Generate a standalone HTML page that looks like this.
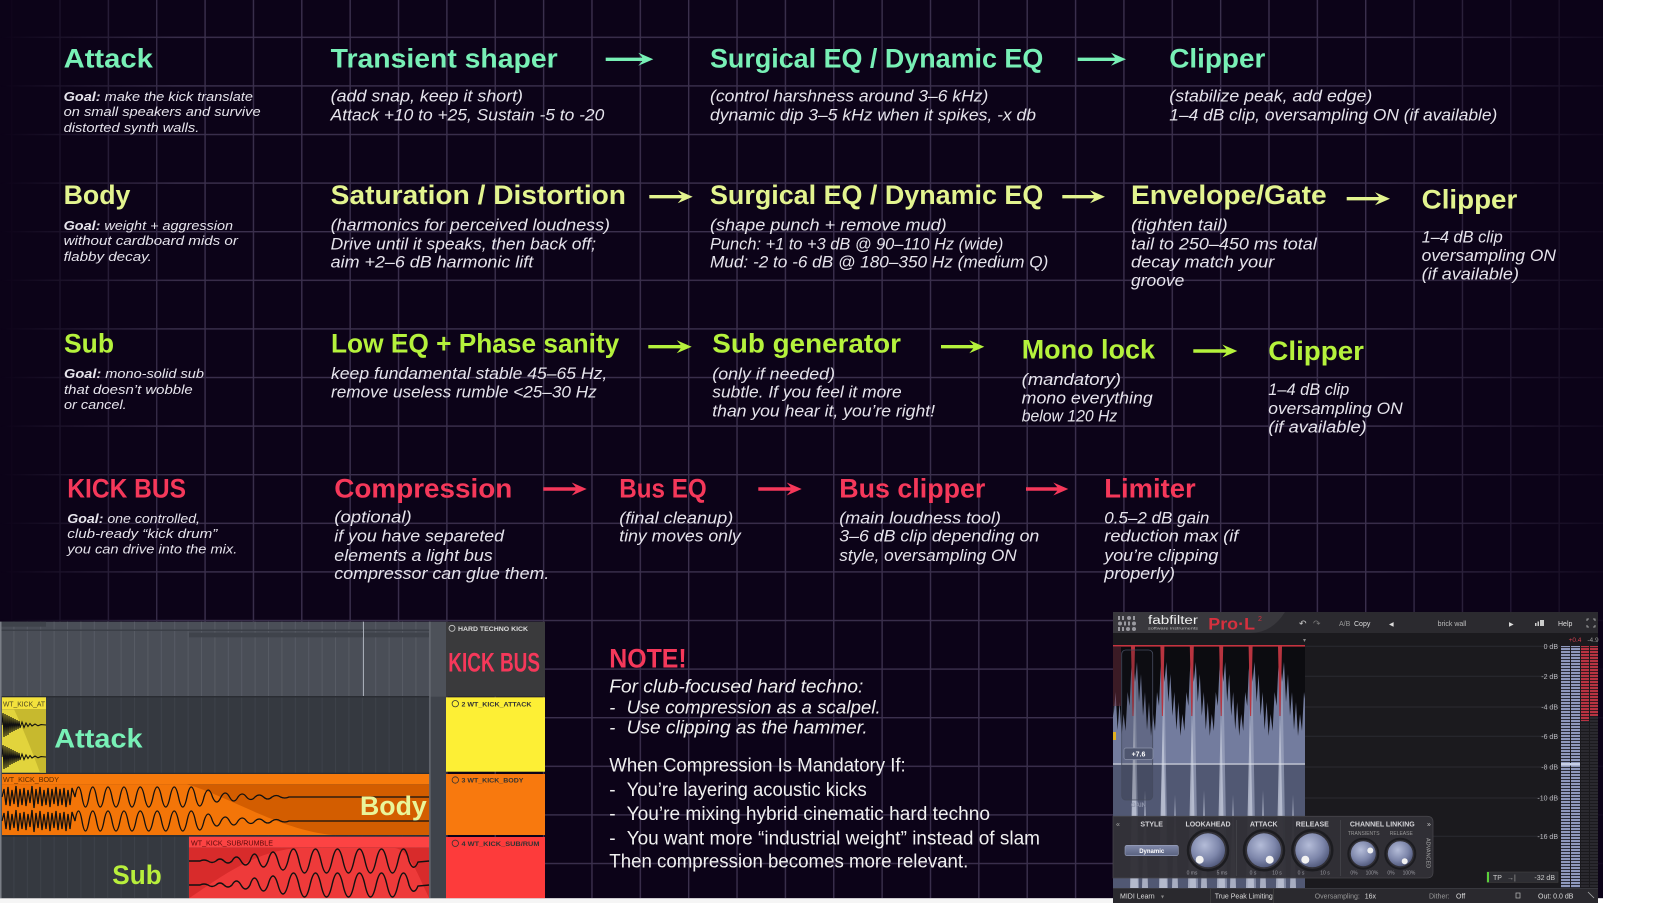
<!DOCTYPE html>
<html><head><meta charset="utf-8">
<style>
html,body{margin:0;padding:0;background:#fff;}
body{width:1668px;height:903px;overflow:hidden;}
svg{display:block}
text{font-family:"Liberation Sans",sans-serif}
.h{font-weight:bold;font-size:27px}
.d{font-style:italic;font-size:17px;fill:#e6e4ec}
.g{font-style:italic;font-size:13px;fill:#e6e4ec}
.n{font-size:19px;fill:#f0f0f0}
.ni{font-style:italic;font-size:18px;fill:#f0f0f0}
.m{fill:#78f0b6}.y{fill:#e3f48f}.l{fill:#b5f23c}.r{fill:#f5385a}
.t7{font-size:7px}
.pl{font-size:7px;fill:#d4d4d8;font-weight:bold}
.pk{font-size:5px;fill:#9a9aa2}
.db{font-size:7px;fill:#bdbdc3}
</style></head><body>
<svg width="1668" height="903" viewBox="0 0 1668 903" xmlns="http://www.w3.org/2000/svg">
<defs>
<linearGradient id="gf" x1="0" y1="0" x2="1603" y2="0" gradientUnits="userSpaceOnUse">
<stop offset="0" stop-color="#fff" stop-opacity="0"/>
<stop offset="0.04" stop-color="#fff" stop-opacity="0.35"/>
<stop offset="0.11" stop-color="#fff" stop-opacity="1"/>
<stop offset="0.86" stop-color="#fff" stop-opacity="1"/>
<stop offset="0.95" stop-color="#fff" stop-opacity="0.45"/>
<stop offset="1" stop-color="#fff" stop-opacity="0.15"/>
</linearGradient>
<mask id="gm" maskUnits="userSpaceOnUse" x="0" y="0" width="1603" height="898"><rect width="1603" height="898" fill="url(#gf)"/></mask>
<pattern id="grid" x="59.3" y="36.6" width="48.36" height="48.6" patternUnits="userSpaceOnUse"><rect width="1.4" height="48.6" fill="#3b304d"/><rect width="48.36" height="1.4" fill="#3b304d"/></pattern>
<pattern id="dg1" x="0" y="0" width="13.4" height="10" patternUnits="userSpaceOnUse"><rect width="1" height="10" fill="#575b64"/></pattern>
<pattern id="dg2" x="0" y="0" width="13.4" height="10" patternUnits="userSpaceOnUse"><rect width="1" height="10" fill="#3d4149"/></pattern>
<pattern id="bs" width="10" height="3" patternUnits="userSpaceOnUse"><rect width="10" height="2" fill="#8f99bd"/><rect y="2" width="10" height="1" fill="#2c2e3a"/></pattern>
<pattern id="rs" width="10" height="3" patternUnits="userSpaceOnUse"><rect width="10" height="2" fill="#b83342"/><rect y="2" width="10" height="1" fill="#3a1a20"/></pattern>
<pattern id="ds" width="10" height="3" patternUnits="userSpaceOnUse"><rect width="10" height="2" fill="#2a292f"/><rect y="2" width="10" height="1" fill="#1b1a1e"/></pattern>
<radialGradient id="kg" cx="0.4" cy="0.35" r="0.7"><stop offset="0" stop-color="#b4bcd8"/><stop offset="0.6" stop-color="#7e87ab"/><stop offset="1" stop-color="#4d5577"/></radialGradient>
<linearGradient id="btn" x1="0" y1="0" x2="0" y2="1"><stop offset="0" stop-color="#8089aa"/><stop offset="1" stop-color="#59617f"/></linearGradient>
<path id="dip" d="M0,645 L0,648 L2,682 L4,662 L6,702 L8,674 L10,716 L12,692 L14,730 L16,702 L18,736 L20,714 L22,731 L24,692 L26,706 L27.5,672 L29.4,648 L29.4,645 Z" fill="#0c0c10"/>
<clipPath id="wclip"><rect x="1113" y="640" width="192" height="248"/></clipPath>
<clipPath id="kclip"><rect x="446" y="621" width="99" height="278"/></clipPath>
<path id="bw" d="M2,797 L4,789 L6,805 L8,787 L10,806 L12,790 L14,804 L16,786 L18,807 L20,789 L22,805 L24,788 L26,806 L28,790 L30,803 L32,786 L34,808 L36,789 L38,804 L40,787 L42,806 L44,790 L46,805 L48,788 L50,807 L52,789 L54,804 L56,787 L58,806 L60,789 L62,805 L64,788 L66,807 L68,790 L70,805 L72,788 L75,797 Q78.5,777 82,797 Q85.5,817 89,797 Q92.75,777 96.5,797 Q100.25,817 104,797 Q108,777 112,797 Q116,817 120,797 Q124,777 128,797 Q132,817 136,797 Q140.25,777 144.5,797 Q148.75,817 153,797 Q157.25,777 161.5,797 Q165.75,817 170,797 Q174.25,777 178.5,797 Q182.75,817 187,797 Q191.25,777 195.5,797 Q199.75,815 204,797 Q208.25,783 212.5,797 Q216.75,807 221,797 Q225.25,789 229.5,797 Q233.75,805 238,797 Q242.25,791 246.5,797 Q250.75,802 255,797 Q259.25,793 263.5,797 Q267.75,801 272,797 Q276.25,794 280.5,797 Q284.75,799 289,797 L429,797" fill="none" stroke="#111" stroke-width="1.3"/>
<path id="sw" d="M189,861 H200 Q204,859 208,861 Q212,864 216,861 Q220,857 224,861 Q228,865 232,861 Q236.5,853 241,861 Q245.5,869 250,861 Q254.5,847 259,861 Q263.5,873 268,861 Q273,843 278,861 Q283,879 288,861 Q293.5,837 299,861 Q304.5,885 310,861 Q315.5,837 321,861 Q326.5,885 332,861 Q337.5,837 343,861 Q348.5,885 354,861 Q359.5,837 365,861 Q370.5,885 376,861 Q381.5,837 387,861 Q392.5,885 398,861 Q403.5,837 409,861 Q413.5,873 418,862 L429.3,861" fill="none" stroke="#111" stroke-width="1.4"/>
<polyline id="aw" points="2,725 3,713 4,737 5,714 6,736 7,715 8,735 9,716 10,733 11,717 12,732 13,718 14,731 15,719 16,730 17,720 18,729 19,721 20,728 22,722 24,727.5 26,723 28,726.5 30,723.5 32,726 35,724 38,725.8 41,724.6 46,725" fill="none" stroke="#111" stroke-width="1.1"/>
</defs>

<!-- background -->
<rect x="0" y="0" width="1603" height="898.3" fill="#0c0318"/>
<rect x="0" y="0" width="1603" height="898.3" fill="url(#grid)" mask="url(#gm)"/>

<!-- ROW 1 -->
<text class="h m" x="63.6" y="67.7" textLength="89.3" lengthAdjust="spacingAndGlyphs">Attack</text>
<text class="h m" x="330.7" y="67.7" textLength="227" lengthAdjust="spacingAndGlyphs">Transient shaper</text>
<text class="h m" x="710" y="67.7" textLength="333.3" lengthAdjust="spacingAndGlyphs">Surgical EQ / Dynamic EQ</text>
<text class="h m" x="1169.3" y="67.7" textLength="96" lengthAdjust="spacingAndGlyphs">Clipper</text>
<text class="g" x="63.6" y="100.8" textLength="189.3" lengthAdjust="spacingAndGlyphs"><tspan font-weight="bold">Goal:</tspan> make the kick translate</text>
<text class="g" x="63.6" y="116.2" textLength="197" lengthAdjust="spacingAndGlyphs">on small speakers and survive</text>
<text class="g" x="63.6" y="131.8" textLength="135.7" lengthAdjust="spacingAndGlyphs">distorted synth walls.</text>
<text class="d" x="330.7" y="101.7" textLength="192.3" lengthAdjust="spacingAndGlyphs">(add snap, keep it short)</text>
<text class="d" x="330.7" y="120.7" textLength="273.6" lengthAdjust="spacingAndGlyphs">Attack +10 to +25, Sustain -5 to -20</text>
<text class="d" x="710" y="101.7" textLength="278.3" lengthAdjust="spacingAndGlyphs">(control harshness around 3–6 kHz)</text>
<text class="d" x="710" y="120.7" textLength="326" lengthAdjust="spacingAndGlyphs">dynamic dip 3–5 kHz when it spikes, -x db</text>
<text class="d" x="1169.3" y="101.7" textLength="203" lengthAdjust="spacingAndGlyphs">(stabilize peak, add edge)</text>
<text class="d" x="1169.3" y="120.7" textLength="328" lengthAdjust="spacingAndGlyphs">1–4 dB clip, oversampling ON (if available)</text>
<g class="m">
<path d="M605.7,57.6H642.3L638.3,52.8L653.3,59.3L638.3,65.8L642.3,61H605.7Z"/>
<path d="M1077.7,57.6H1115L1111,52.8L1126,59.3L1111,65.8L1115,61H1077.7Z"/>
</g>

<!-- ROW 2 -->
<text class="h y" x="63.6" y="204" textLength="66.8" lengthAdjust="spacingAndGlyphs">Body</text>
<text class="h y" x="330.7" y="204" textLength="295.3" lengthAdjust="spacingAndGlyphs">Saturation / Distortion</text>
<text class="h y" x="710" y="204" textLength="333.3" lengthAdjust="spacingAndGlyphs">Surgical EQ / Dynamic EQ</text>
<text class="h y" x="1131" y="204" textLength="195.7" lengthAdjust="spacingAndGlyphs">Envelope/Gate</text>
<text class="h y" x="1421.7" y="208.3" textLength="95.6" lengthAdjust="spacingAndGlyphs">Clipper</text>
<text class="g" x="63.6" y="230.2" textLength="169.4" lengthAdjust="spacingAndGlyphs"><tspan font-weight="bold">Goal:</tspan> weight + aggression</text>
<text class="g" x="63.6" y="245.2" textLength="174.3" lengthAdjust="spacingAndGlyphs">without cardboard mids or</text>
<text class="g" x="63.6" y="260.8" textLength="88.2" lengthAdjust="spacingAndGlyphs">flabby decay.</text>
<text class="d" x="330.7" y="230.7" textLength="279.3" lengthAdjust="spacingAndGlyphs">(harmonics for perceived loudness)</text>
<text class="d" x="330.7" y="249.7" textLength="265.3" lengthAdjust="spacingAndGlyphs">Drive until it speaks, then back off;</text>
<text class="d" x="330.7" y="267.7" textLength="202.5" lengthAdjust="spacingAndGlyphs">aim +2–6 dB harmonic lift</text>
<text class="d" x="710" y="230.7" textLength="236.7" lengthAdjust="spacingAndGlyphs">(shape punch + remove mud)</text>
<text class="d" x="710" y="249.7" textLength="293.3" lengthAdjust="spacingAndGlyphs">Punch: +1 to +3 dB @ 90–110 Hz (wide)</text>
<text class="d" x="710" y="267.7" textLength="338.3" lengthAdjust="spacingAndGlyphs">Mud: -2 to -6 dB @ 180–350 Hz (medium Q)</text>
<text class="d" x="1131" y="230.7" textLength="96.7" lengthAdjust="spacingAndGlyphs">(tighten tail)</text>
<text class="d" x="1131" y="249.7" textLength="185.7" lengthAdjust="spacingAndGlyphs">tail to 250–450 ms total</text>
<text class="d" x="1131" y="267.7" textLength="143.3" lengthAdjust="spacingAndGlyphs">decay match your</text>
<text class="d" x="1131" y="286" textLength="53.3" lengthAdjust="spacingAndGlyphs">groove</text>
<text class="d" x="1421.7" y="242.3" textLength="81" lengthAdjust="spacingAndGlyphs">1–4 dB clip</text>
<text class="d" x="1421.7" y="261" textLength="134.3" lengthAdjust="spacingAndGlyphs">oversampling ON</text>
<text class="d" x="1421.7" y="279.3" textLength="97.3" lengthAdjust="spacingAndGlyphs">(if available)</text>
<g class="y">
<path d="M649.3,195H681.7L677.7,190.2L692.7,196.7L677.7,203.2L681.7,198.4H649.3Z"/>
<path d="M1062.3,195H1094L1090,190.2L1105,196.7L1090,203.2L1094,198.4H1062.3Z"/>
<path d="M1346.7,197H1379L1375,192.2L1390,198.7L1375,205.2L1379,200.4H1346.7Z"/>
</g>

<!-- ROW 3 -->
<text class="h l" x="64" y="352.7" textLength="50" lengthAdjust="spacingAndGlyphs">Sub</text>
<text class="h l" x="331" y="352.7" textLength="288.3" lengthAdjust="spacingAndGlyphs">Low EQ + Phase sanity</text>
<text class="h l" x="712.3" y="352.7" textLength="188.7" lengthAdjust="spacingAndGlyphs">Sub generator</text>
<text class="h l" x="1021.7" y="358.3" textLength="133.3" lengthAdjust="spacingAndGlyphs">Mono lock</text>
<text class="h l" x="1268.3" y="360" textLength="95.7" lengthAdjust="spacingAndGlyphs">Clipper</text>
<text class="g" x="64" y="377.8" textLength="140" lengthAdjust="spacingAndGlyphs"><tspan font-weight="bold">Goal:</tspan> mono-solid sub</text>
<text class="g" x="64" y="393.8" textLength="128.7" lengthAdjust="spacingAndGlyphs">that doesn’t wobble</text>
<text class="g" x="64" y="409.2" textLength="62.7" lengthAdjust="spacingAndGlyphs">or cancel.</text>
<text class="d" x="331" y="379" textLength="276.3" lengthAdjust="spacingAndGlyphs">keep fundamental stable 45–65 Hz,</text>
<text class="d" x="331" y="397.3" textLength="265.7" lengthAdjust="spacingAndGlyphs">remove useless rumble &lt;25–30 Hz</text>
<text class="d" x="712.3" y="379.3" textLength="122.7" lengthAdjust="spacingAndGlyphs">(only if needed)</text>
<text class="d" x="712.3" y="397.7" textLength="189.4" lengthAdjust="spacingAndGlyphs">subtle. If you feel it more</text>
<text class="d" x="712.3" y="416.7" textLength="222.7" lengthAdjust="spacingAndGlyphs">than you hear it, you’re right!</text>
<text class="d" x="1021.7" y="385" textLength="99.3" lengthAdjust="spacingAndGlyphs">(mandatory)</text>
<text class="d" x="1021.7" y="403.3" textLength="131" lengthAdjust="spacingAndGlyphs">mono everything</text>
<text class="d" x="1021.7" y="421.7" textLength="95.6" lengthAdjust="spacingAndGlyphs">below 120 Hz</text>
<text class="d" x="1268.3" y="395" textLength="81" lengthAdjust="spacingAndGlyphs">1–4 dB clip</text>
<text class="d" x="1268.3" y="414" textLength="134.4" lengthAdjust="spacingAndGlyphs">oversampling ON</text>
<text class="d" x="1268.3" y="432.7" textLength="98.4" lengthAdjust="spacingAndGlyphs">(if available)</text>
<g class="l">
<path d="M648.3,345H680.7L676.7,340.2L691.7,346.7L676.7,353.2L680.7,348.4H648.3Z"/>
<path d="M941,345H973.3L969.3,340.2L984.3,346.7L969.3,353.2L973.3,348.4H941Z"/>
<path d="M1193.3,349.3H1226.3L1222.3,344.5L1237.3,351L1222.3,357.5L1226.3,352.7H1193.3Z"/>
</g>

<!-- ROW 4 -->
<text class="h r" x="67.3" y="497.3" textLength="118.7" lengthAdjust="spacingAndGlyphs">KICK BUS</text>
<text class="h r" x="334.3" y="497.3" textLength="178" lengthAdjust="spacingAndGlyphs">Compression</text>
<text class="h r" x="619.3" y="497.3" textLength="87.4" lengthAdjust="spacingAndGlyphs">Bus EQ</text>
<text class="h r" x="839.3" y="497.3" textLength="146" lengthAdjust="spacingAndGlyphs">Bus clipper</text>
<text class="h r" x="1104.3" y="497.3" textLength="91.4" lengthAdjust="spacingAndGlyphs">Limiter</text>
<text class="g" x="67.3" y="522.8" textLength="132.7" lengthAdjust="spacingAndGlyphs"><tspan font-weight="bold">Goal:</tspan> one controlled,</text>
<text class="g" x="67.3" y="538.2" textLength="150" lengthAdjust="spacingAndGlyphs">club-ready “kick drum”</text>
<text class="g" x="67.3" y="553.5" textLength="170" lengthAdjust="spacingAndGlyphs">you can drive into the mix.</text>
<text class="d" x="334.3" y="522.7" textLength="77.4" lengthAdjust="spacingAndGlyphs">(optional)</text>
<text class="d" x="334.3" y="541.7" textLength="169.7" lengthAdjust="spacingAndGlyphs">if you have separeted</text>
<text class="d" x="334.3" y="561" textLength="158.4" lengthAdjust="spacingAndGlyphs">elements a light bus</text>
<text class="d" x="334.3" y="579" textLength="215" lengthAdjust="spacingAndGlyphs">compressor can glue them.</text>
<text class="d" x="619.3" y="523.3" textLength="114" lengthAdjust="spacingAndGlyphs">(final cleanup)</text>
<text class="d" x="619.3" y="541.7" textLength="121.4" lengthAdjust="spacingAndGlyphs">tiny moves only</text>
<text class="d" x="839.3" y="523.3" textLength="161.7" lengthAdjust="spacingAndGlyphs">(main loudness tool)</text>
<text class="d" x="839.3" y="541.7" textLength="200" lengthAdjust="spacingAndGlyphs">3–6 dB clip depending on</text>
<text class="d" x="839.3" y="561" textLength="177.4" lengthAdjust="spacingAndGlyphs">style, oversampling ON</text>
<text class="d" x="1104.3" y="523.3" textLength="105" lengthAdjust="spacingAndGlyphs">0.5–2 dB gain</text>
<text class="d" x="1104.3" y="541.7" textLength="134" lengthAdjust="spacingAndGlyphs">reduction max (if</text>
<text class="d" x="1104.3" y="561" textLength="114" lengthAdjust="spacingAndGlyphs">you’re clipping</text>
<text class="d" x="1104.3" y="579" textLength="70.7" lengthAdjust="spacingAndGlyphs">properly)</text>
<g class="r">
<path d="M543.3,487.3H575.7L571.7,482.5L586.7,489L571.7,495.5L575.7,490.7H543.3Z"/>
<path d="M758.3,487.3H790.7L786.7,482.5L801.7,489L786.7,495.5L790.7,490.7H758.3Z"/>
<path d="M1026,487.3H1057.3L1053.3,482.5L1068.3,489L1053.3,495.5L1057.3,490.7H1026Z"/>
</g>

<!-- NOTE -->
<text class="h r" x="609.3" y="667.7" textLength="77.4" lengthAdjust="spacingAndGlyphs">NOTE!</text>
<text class="ni" x="609.3" y="692.7" textLength="254" lengthAdjust="spacingAndGlyphs">For club-focused hard techno:</text>
<text class="ni" x="609.3" y="713.3">-</text>
<text class="ni" x="626.7" y="713.3" textLength="254" lengthAdjust="spacingAndGlyphs">Use compression as a scalpel.</text>
<text class="ni" x="609.3" y="733.3">-</text>
<text class="ni" x="626.7" y="733.3" textLength="241" lengthAdjust="spacingAndGlyphs">Use clipping as the hammer.</text>
<text class="n" x="609.3" y="771.7" textLength="296.4" lengthAdjust="spacingAndGlyphs">When Compression Is Mandatory If:</text>
<text class="n" x="609.3" y="796">-</text>
<text class="n" x="626.7" y="796" textLength="240" lengthAdjust="spacingAndGlyphs">You’re layering acoustic kicks</text>
<text class="n" x="609.3" y="820">-</text>
<text class="n" x="626.7" y="820" textLength="363.3" lengthAdjust="spacingAndGlyphs">You’re mixing hybrid cinematic hard techno</text>
<text class="n" x="609.3" y="844.3">-</text>
<text class="n" x="626.7" y="844.3" textLength="413.3" lengthAdjust="spacingAndGlyphs">You want more “industrial weight” instead of slam</text>
<text class="n" x="609.3" y="867.7" textLength="359" lengthAdjust="spacingAndGlyphs">Then compression becomes more relevant.</text>

<!-- DAW -->
<g>
<rect x="0" y="621.7" width="430" height="75" fill="#4a4e57"/>
<rect x="0" y="621.7" width="430" height="75" fill="url(#dg1)"/>
<rect x="0" y="621.7" width="46" height="5" fill="#3f434b"/>
<rect x="0" y="629.5" width="430" height="1.5" fill="#3b3f47"/>
<rect x="189" y="632.7" width="240" height="4.6" fill="#3f434b"/>
<rect x="363" y="621.7" width="1" height="75" fill="#a6acb6"/>
<rect x="0" y="696.7" width="430" height="201.6" fill="#353940"/>
<rect x="0" y="696.7" width="430" height="201.6" fill="url(#dg2)"/>
<rect x="0" y="696" width="430" height="1.5" fill="#2a2d33"/>
<rect x="0" y="772.7" width="430" height="1.5" fill="#2a2d33"/>
<rect x="0" y="835.2" width="430" height="1.5" fill="#2a2d33"/>
<rect x="0" y="621.7" width="1.5" height="276.6" fill="#7a7e86"/>
<!-- attack clip -->
<rect x="2" y="697.3" width="44" height="12" fill="#f4e23c"/>
<rect x="2" y="709.3" width="44" height="63.4" fill="#e2d43c"/>
<path d="M14,709.3 H46 V772.7 H40 Q26,735 14,709.3Z" fill="#c7b92e"/>
<text x="3" y="706.5" class="t7" fill="#4a4420" textLength="42" lengthAdjust="spacingAndGlyphs">WT_KICK_AT</text>
<use href="#aw"/>
<use href="#aw" y="32"/>
<text class="h m" x="54.3" y="747.7" font-size="26" textLength="88.3" lengthAdjust="spacingAndGlyphs">Attack</text>
<!-- body clip -->
<rect x="2" y="774" width="427.3" height="10.3" fill="#f77a0c"/>
<rect x="2" y="784.3" width="427.3" height="50.7" fill="#d35d00"/>
<path d="M2,784.3 H187 C230,797 280,830 333,835 H2 Z" fill="#f37508"/>
<text x="3" y="782" class="t7" fill="#5a2a00" textLength="56" lengthAdjust="spacingAndGlyphs">WT_KICK_BODY</text>
<use href="#bw"/>
<use href="#bw" y="24"/>
<text class="h" x="360" y="815" font-size="26" fill="#e9f59a" textLength="66.7" lengthAdjust="spacingAndGlyphs">Body</text>
<!-- sub clip -->
<rect x="189" y="836.7" width="240.3" height="11" fill="#fc4343"/>
<rect x="189" y="847.7" width="240.3" height="50.6" fill="#d82b2b"/>
<path d="M189,898.3 C230,870 260,850 300,848 H395 C410,850 420,880 429.3,898.3 Z" fill="#ee3a3a"/>
<text x="191" y="845.5" class="t7" fill="#5a0a0a" textLength="82" lengthAdjust="spacingAndGlyphs">WT_KICK_SUB/RUMBLE</text>
<use href="#sw"/>
<use href="#sw" y="24"/>
<text class="h" x="112.3" y="884" font-size="26" fill="#b8ef3c" textLength="49.4" lengthAdjust="spacingAndGlyphs">Sub</text>
<!-- column -->
<rect x="429.3" y="621.7" width="16.7" height="276.6" fill="#3f434b"/>
<rect x="429.3" y="621.7" width="16.7" height="75" fill="#4d5159"/>
<rect x="429.3" y="621.7" width="1.2" height="276.6" fill="#6c7078"/>
<!-- kick bus strip -->
<g clip-path="url(#kclip)">
<rect x="446" y="621.7" width="99" height="75" fill="#3a3a3c"/>
<circle cx="452" cy="628.3" r="3" fill="none" stroke="#ccc" stroke-width="0.8"/>
<text x="458" y="630.8" font-size="6.5" font-weight="bold" fill="#ddd" textLength="70" lengthAdjust="spacingAndGlyphs">HARD TECHNO KICK</text>
<text class="h r" x="448.3" y="671.7" font-size="19" textLength="91.7" lengthAdjust="spacingAndGlyphs">KICK BUS</text>
<rect x="446" y="697.3" width="99" height="74.4" fill="#fdef35"/>
<circle cx="455.3" cy="703.7" r="3.2" fill="none" stroke="#333" stroke-width="0.8"/>
<text x="461.5" y="706.3" font-size="6.5" font-weight="bold" fill="#333" textLength="70" lengthAdjust="spacingAndGlyphs">2 WT_KICK_ATTACK</text>
<rect x="446" y="774" width="99" height="61" fill="#f8790e"/>
<circle cx="455.3" cy="780" r="3.2" fill="none" stroke="#333" stroke-width="0.8"/>
<text x="461.5" y="782.6" font-size="6.5" font-weight="bold" fill="#333" textLength="62" lengthAdjust="spacingAndGlyphs">3 WT_KICK_BODY</text>
<rect x="446" y="837" width="99" height="61.3" fill="#fd3b3b"/>
<circle cx="455.3" cy="843.3" r="3.2" fill="none" stroke="#333" stroke-width="0.8"/>
<text x="461.5" y="846" font-size="6.5" font-weight="bold" fill="#333" textLength="78" lengthAdjust="spacingAndGlyphs">4 WT_KICK_SUB/RUM</text>
</g>
</g>
<rect x="0" y="898.3" width="1113" height="4.7" fill="#f5f5f5"/>

<!-- PRO-L -->
<g>
<rect x="1113" y="612" width="485" height="291" fill="#1b1a1e"/>
<rect x="1113" y="612" width="485" height="21" fill="#2b2a2f"/>
<path d="M1113,612 H1285 Q1272,633 1250,633 H1113 Z" fill="#39383d"/>
<g fill="#9a9aa0">
<rect x="1118" y="616" width="2" height="4"/><rect x="1122" y="616" width="2" height="4"/><rect x="1127" y="616" width="4" height="4" rx="2"/><rect x="1133" y="616" width="2" height="4"/>
<rect x="1118" y="621.5" width="4" height="4" rx="2"/><rect x="1124" y="621.5" width="2" height="4"/><rect x="1128" y="621.5" width="2" height="4"/><rect x="1132" y="621.5" width="4" height="4" rx="2"/>
<rect x="1118" y="627" width="2" height="4"/><rect x="1122" y="627" width="2" height="4"/><rect x="1126" y="627" width="4" height="4" rx="2"/><rect x="1132" y="627" width="4" height="4" rx="2"/>
</g>
<text x="1148" y="624" font-size="11.5" fill="#f0f0f0" textLength="50" lengthAdjust="spacingAndGlyphs">fabfilter</text>
<text x="1148" y="629.5" font-size="4" fill="#bbb" textLength="50" lengthAdjust="spacingAndGlyphs">software instruments</text>
<text x="1208.3" y="629.5" font-size="17" font-weight="bold" fill="#d6303e" textLength="46.7" lengthAdjust="spacingAndGlyphs">Pro·L</text>
<text x="1258" y="621" font-size="7" fill="#d6303e">2</text>
<text x="1299" y="626.5" font-size="9" fill="#ccc">↶</text>
<text x="1313" y="626.5" font-size="9" fill="#777">↷</text>
<text x="1339" y="626" class="t7" fill="#999">A/B</text>
<text x="1354" y="626" class="t7" fill="#ddd">Copy</text>
<text x="1389" y="626" font-size="6" fill="#ddd">◀</text>
<text x="1452" y="626" class="t7" fill="#bbb" text-anchor="middle">brick wall</text>
<text x="1509" y="626" font-size="6" fill="#ddd">▶</text>
<g fill="#ccc"><rect x="1535" y="623" width="1.5" height="3"/><rect x="1537.5" y="621.5" width="1.5" height="4.5"/><rect x="1540" y="620" width="4" height="6"/></g>
<text x="1558" y="626" class="t7" fill="#ddd">Help</text>
<path d="M1587,621V619H1589M1593,619H1595V621M1595,625V627H1593M1589,627H1587V625" fill="none" stroke="#bbb" stroke-width="0.8"/>

<!-- right display grid -->
<g stroke="#2b2a30" stroke-width="1">
<path d="M1305,646.3H1560M1305,676.3H1560M1305,707H1560M1305,736.3H1560M1305,767H1560M1305,798H1560M1305,836.3H1560"/>
</g>
<g class="db" text-anchor="end">
<text x="1558" y="649">0 dB</text>
<text x="1558" y="679">-2 dB</text>
<text x="1558" y="709.5">-4 dB</text>
<text x="1558" y="739">-6 dB</text>
<text x="1558" y="769.5">-8 dB</text>
<text x="1558" y="800.5">-10 dB</text>
<text x="1558" y="839">-16 dB</text>
</g>
<rect x="1561" y="646" width="9" height="242" fill="url(#bs)"/>
<rect x="1571" y="646" width="9" height="242" fill="url(#bs)"/>
<rect x="1561" y="763" width="19" height="2.5" fill="#c8d0e6"/>
<rect x="1581" y="646" width="8" height="242" fill="url(#ds)"/>
<rect x="1590" y="646" width="8" height="242" fill="url(#ds)"/>
<rect x="1581" y="646" width="8" height="75" fill="url(#rs)"/>
<rect x="1590" y="646" width="8" height="70" fill="url(#rs)"/>
<text x="1575" y="642" font-size="6.5" fill="#d04050" text-anchor="middle">+0.4</text>
<text x="1593" y="642" font-size="6.5" fill="#999" text-anchor="middle">-4.9</text>

<!-- waveform -->
<g clip-path="url(#wclip)">
<rect x="1113" y="646" width="192" height="118" fill="#737c9e"/>
<rect x="1113" y="764" width="192" height="124" fill="#515873"/>
<g fill="#a9b0c8" opacity="0.6">
<polygon points="1131,888 1135,650 1139,888"/><polygon points="1160,888 1164,650 1168,888"/><polygon points="1190,888 1194,650 1198,888"/><polygon points="1219,888 1223,650 1227,888"/><polygon points="1248,888 1252,650 1256,888"/><polygon points="1278,888 1282,650 1286,888"/>
</g>
<use href="#dip" transform="translate(1103.6,0)"/>
<use href="#dip" transform="translate(1133,0)"/>
<use href="#dip" transform="translate(1162.4,0)"/>
<use href="#dip" transform="translate(1191.8,0)"/>
<use href="#dip" transform="translate(1221.2,0)"/>
<use href="#dip" transform="translate(1250.6,0)"/>
<use href="#dip" transform="translate(1280,0)"/>
<g fill="#c4cadb" opacity="0.75">
<polygon points="1130,888 1134,705 1138,888"/><polygon points="1159,888 1163,705 1167,888"/><polygon points="1188,888 1192,705 1196,888"/><polygon points="1217,888 1221,705 1225,888"/><polygon points="1246,888 1250,705 1254,888"/><polygon points="1276,888 1280,705 1284,888"/>
<polygon points="1142,888 1145,790 1148,888"/><polygon points="1172,888 1175,795 1178,888"/><polygon points="1201,888 1204,790 1207,888"/><polygon points="1230,888 1233,795 1236,888"/><polygon points="1260,888 1263,790 1266,888"/><polygon points="1290,888 1293,795 1296,888"/>
</g>
<g fill="#b8343f">
<polygon points="1131,646 1135,646 1133.5,716 1132.5,716"/><polygon points="1160.4,646 1164.4,646 1162.9,716 1161.9,716"/><polygon points="1189.8,646 1193.8,646 1192.3,716 1191.3,716"/><polygon points="1219.2,646 1223.2,646 1221.7,716 1220.7,716"/><polygon points="1248.6,646 1252.6,646 1251.1,716 1250.1,716"/><polygon points="1278,646 1282,646 1280.5,716 1279.5,716"/>
</g>
<rect x="1113" y="645" width="192" height="1.6" fill="#c5333f"/>
<rect x="1113" y="763.5" width="192" height="1.1" fill="#dfe2ea"/>
<rect x="1113" y="646" width="8" height="60" fill="#6a2a3a" opacity="0.5"/>
<rect x="1121.7" y="650" width="31" height="150" rx="4" fill="#14141c" fill-opacity="0.18" stroke="#454b5e" stroke-width="0.8"/>
</g>
<text x="1303" y="642" font-size="6" fill="#888">▾</text>
<rect x="1113" y="732" width="3" height="8" fill="#e0b020"/>
<rect x="1124" y="748" width="29" height="11.5" rx="2" fill="#4f566f" stroke="#8d94ab" stroke-width="0.7"/>
<text x="1138.5" y="756.5" font-size="7" font-weight="bold" fill="#fff" text-anchor="middle">+7.6</text>
<text x="1131" y="807" font-size="6" font-weight="bold" fill="#8f95ab">GAIN</text>

<!-- control panel -->
<path d="M1113,816.3 H1427 Q1433,816.3 1433,822 V872 Q1433,878 1427,878 H1113 Z" fill="#313036" fill-opacity="0.96" stroke="#45444a" stroke-width="0.8"/>
<rect x="1236" y="820" width="0.8" height="56" fill="#45444a"/>
<rect x="1340" y="820" width="0.8" height="56" fill="#45444a"/>
<text x="1116" y="826.5" class="t7" fill="#aaa">«</text>
<text x="1427" y="826.5" class="t7" fill="#ccc">»</text>
<g class="pl" text-anchor="middle">
<text x="1151.7" y="826.5">STYLE</text>
<text x="1208" y="826.5">LOOKAHEAD</text>
<text x="1263.7" y="826.5">ATTACK</text>
<text x="1312.3" y="826.5">RELEASE</text>
<text x="1382.3" y="826.5">CHANNEL LINKING</text>
</g>
<text x="1363.7" y="835" font-size="5" fill="#999" text-anchor="middle">TRANSIENTS</text>
<text x="1401.3" y="835" font-size="5" fill="#999" text-anchor="middle">RELEASE</text>
<text transform="translate(1426.5,838) rotate(90)" font-size="5.5" fill="#aaa">ADVANCED</text>
<rect x="1125" y="845.3" width="53.3" height="10.4" rx="2" fill="url(#btn)" stroke="#9aa2bc" stroke-width="0.6"/>
<text x="1151.7" y="852.8" font-size="6" font-weight="bold" fill="#fff" text-anchor="middle">Dynamic</text>
<g>
<circle cx="1208" cy="850.3" r="20" fill="none" stroke="#1c1c20" stroke-width="2.5"/>
<circle cx="1208" cy="850.3" r="17" fill="url(#kg)"/>
<circle cx="1199.7" cy="859.7" r="4" fill="#f2f2f2"/>
<circle cx="1264" cy="850.3" r="20" fill="none" stroke="#1c1c20" stroke-width="2.5"/>
<circle cx="1264" cy="850.3" r="17" fill="url(#kg)"/>
<circle cx="1269.7" cy="859.7" r="4" fill="#f2f2f2"/>
<circle cx="1312.3" cy="850.3" r="20" fill="none" stroke="#1c1c20" stroke-width="2.5"/>
<circle cx="1312.3" cy="850.3" r="17" fill="url(#kg)"/>
<circle cx="1305.3" cy="859.7" r="4" fill="#f2f2f2"/>
<circle cx="1363.3" cy="853.7" r="15" fill="none" stroke="#1c1c20" stroke-width="2"/>
<circle cx="1363.3" cy="853.7" r="12.5" fill="url(#kg)"/>
<circle cx="1370.3" cy="850.5" r="3" fill="#f2f2f2"/>
<circle cx="1400.3" cy="853.7" r="15" fill="none" stroke="#1c1c20" stroke-width="2"/>
<circle cx="1400.3" cy="853.7" r="12.5" fill="url(#kg)"/>
<circle cx="1404.7" cy="861.3" r="3" fill="#f2f2f2"/>
</g>
<g class="pk" text-anchor="middle">
<text x="1192" y="874.5">0 ms</text><text x="1222" y="874.5">5 ms</text>
<text x="1253" y="874.5">0 s</text><text x="1277" y="874.5">10 s</text>
<text x="1301" y="874.5">0 s</text><text x="1325" y="874.5">10 s</text>
<text x="1354" y="874.5">0%</text><text x="1372" y="874.5">100%</text>
<text x="1391" y="874.5">0%</text><text x="1409" y="874.5">100%</text>
</g>
<rect x="1487" y="872" width="71" height="10.3" fill="#2e2e33" stroke="#444" stroke-width="0.6"/>
<rect x="1487" y="872" width="2" height="10.3" fill="#5ad03a"/>
<text x="1493" y="879.8" class="t7" fill="#ccc">TP</text>
<text x="1507" y="879.8" class="t7" fill="#aaa">→|</text>
<text x="1555" y="879.8" class="t7" fill="#ccc" text-anchor="end">-32 dB</text>
<!-- bottom bar -->
<rect x="1113" y="888" width="485" height="15" fill="#2a292e"/>
<rect x="1113" y="888" width="485" height="0.8" fill="#3d3c42"/>
<text x="1120" y="898.5" class="t7" fill="#ddd">MIDI Learn</text>
<text x="1161" y="898.5" font-size="6" fill="#888">▾</text>
<rect x="1210" y="889" width="0.7" height="14" fill="#444"/>
<rect x="1273" y="889" width="0.7" height="14" fill="#444"/>
<text x="1214.7" y="898.5" class="t7" fill="#ddd">True Peak Limiting</text>
<text x="1314.7" y="898.5" class="t7" fill="#999">Oversampling:</text>
<text x="1364.7" y="898.5" class="t7" fill="#ddd">16x</text>
<text x="1429" y="898.5" class="t7" fill="#999">Dither:</text>
<text x="1456" y="898.5" class="t7" fill="#ddd">Off</text>
<rect x="1516" y="893" width="4" height="5" fill="none" stroke="#bbb" stroke-width="0.7"/>
<text x="1538" y="898.5" class="t7" fill="#ddd">Out: 0.0 dB</text>
<path d="M1588,892L1594,898" stroke="#aaa" stroke-width="0.8"/>
</g>
<rect x="1603" y="0" width="65" height="903" fill="#ffffff"/>
<rect x="1598" y="898.3" width="5" height="4.7" fill="#ffffff"/>
</svg>
</body></html>
